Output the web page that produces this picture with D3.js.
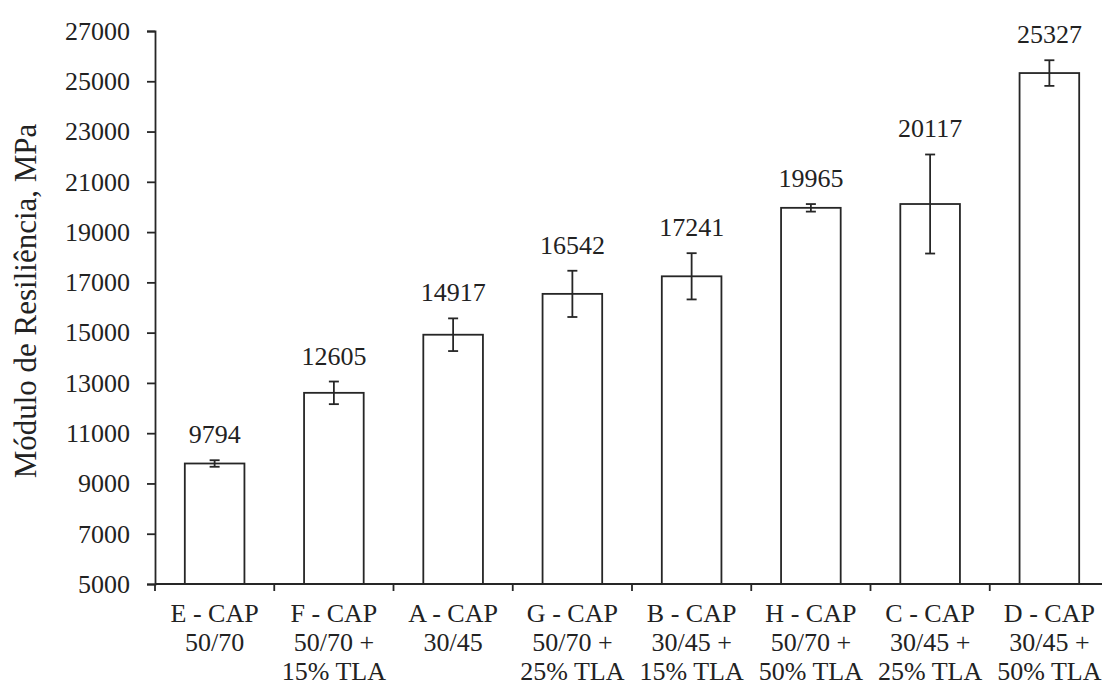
<!DOCTYPE html>
<html>
<head>
<meta charset="utf-8">
<script src="https://cdn.jsdelivr.net/npm/d3@7"></script>
<style>
  html, body { margin: 0; padding: 0; background: #fff; }
  svg { display: block; }
  text { font-family: "Liberation Serif", "Times New Roman", serif; fill: #222; }
</style>
</head>
<body>
<svg id="chart" width="1102" height="686"></svg>
<script>
// Mixtures, resilient modulus (MPa) and standard deviation
const categories = [
  ["E - CAP", "50/70"],
  ["F - CAP", "50/70 +", "15% TLA"],
  ["A - CAP", "30/45"],
  ["G - CAP", "50/70 +", "25% TLA"],
  ["B - CAP", "30/45 +", "15% TLA"],
  ["H - CAP", "50/70 +", "50% TLA"],
  ["C - CAP", "30/45 +", "25% TLA"],
  ["D - CAP", "30/45 +", "50% TLA"]
];
const modulus = [9794, 12605, 14917, 16542, 17241, 19965, 20117, 25327];
const deviation = [130, 450, 650, 920, 920, 150, 1970, 510];
const yTicks = [5000, 7000, 9000, 11000, 13000, 15000, 17000, 19000, 21000, 23000, 25000, 27000];

const svg = d3.select("#chart");
const ink = "#262626";
const plotLeft = 155, plotRight = 1109, plotTop = 31, plotBottom = 584;

const keys = categories.map((c, i) => i);
const x = d3.scaleBand().domain(keys).range([plotLeft, plotRight]).paddingInner(0.5).paddingOuter(0.25);
const y = d3.scaleLinear().domain([5000, 27000]).range([plotBottom, plotTop]);

// Y axis
const yAxis = d3.axisLeft(y).tickValues(yTicks).tickSize(8).tickPadding(17).tickFormat(d3.format("d"));
const gy = svg.append("g").attr("transform", `translate(${plotLeft},0)`).call(yAxis);
gy.select(".domain").attr("stroke", ink).attr("stroke-width", 1.8);
gy.selectAll(".tick line").attr("stroke", ink).attr("stroke-width", 1.8);
gy.selectAll(".tick text").style("font-size", "26px").attr("fill", "#222")
  .style("font-family", '"Liberation Serif", "Times New Roman", serif');

// Y axis title
svg.append("text")
  .attr("transform", "translate(36,301) rotate(-90)")
  .attr("text-anchor", "middle")
  .style("font-size", "31px")
  .text("Módulo de Resiliência, MPa");

// Bars
svg.append("g").selectAll("rect").data(modulus).join("rect")
  .attr("x", (d, i) => x(i))
  .attr("y", d => y(d))
  .attr("width", x.bandwidth())
  .attr("height", d => y(5000) - y(d))
  .attr("fill", "#fff")
  .attr("stroke", ink)
  .attr("stroke-width", 1.8);

// Error bars
const eb = svg.append("g").attr("stroke", ink).attr("stroke-width", 1.8);
modulus.forEach((v, i) => {
  const cx = x(i) + x.bandwidth() / 2;
  const y1 = y(v + deviation[i]), y2 = y(v - deviation[i]);
  eb.append("line").attr("x1", cx).attr("x2", cx).attr("y1", y1).attr("y2", y2);
  eb.append("line").attr("x1", cx - 5).attr("x2", cx + 5).attr("y1", y1).attr("y2", y1);
  eb.append("line").attr("x1", cx - 5).attr("x2", cx + 5).attr("y1", y2).attr("y2", y2);
});

// Value labels
svg.append("g").selectAll("text").data(modulus).join("text")
  .attr("x", (d, i) => x(i) + x.bandwidth() / 2)
  .attr("y", (d, i) => y(d + deviation[i]) - 17)
  .attr("text-anchor", "middle")
  .style("font-size", "26px")
  .text(d => d);

// X axis with ticks at category boundaries
const step = x.step();
const gx = svg.append("g").attr("stroke", ink).attr("stroke-width", 1.8);
gx.append("line").attr("x1", plotLeft).attr("x2", plotRight).attr("y1", plotBottom).attr("y2", plotBottom);
d3.range(categories.length + 1).forEach(i => {
  const tx = plotLeft + i * step;
  gx.append("line").attr("x1", tx).attr("x2", tx).attr("y1", plotBottom).attr("y2", plotBottom + 7);
});

// Category labels
const cl = svg.append("g");
categories.forEach((lines, i) => {
  const cx = x(i) + x.bandwidth() / 2;
  lines.forEach((s, j) => {
    cl.append("text")
      .attr("x", cx)
      .attr("y", 622 + j * 29)
      .attr("text-anchor", "middle")
      .style("font-size", "26px")
      .text(s);
  });
});
</script>
</body>
</html>
